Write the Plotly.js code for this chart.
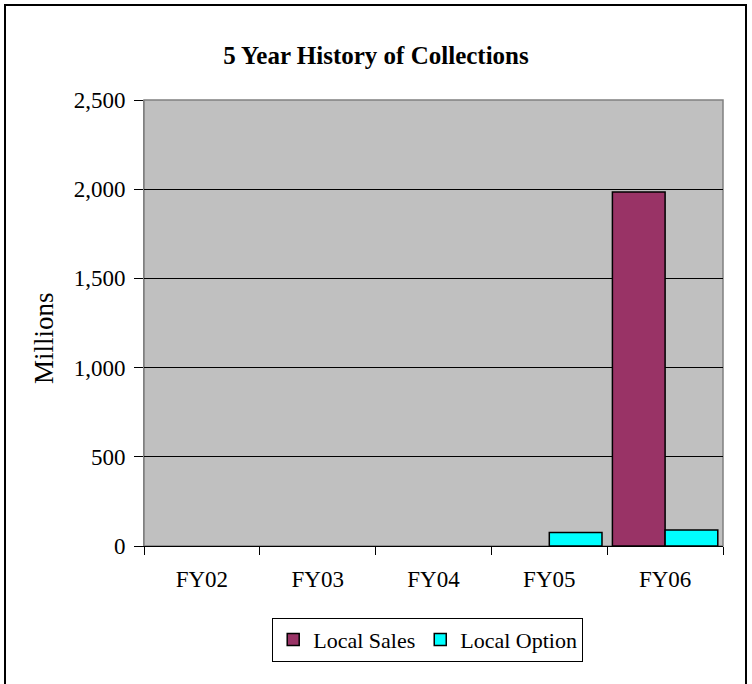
<!DOCTYPE html>
<html><head><meta charset="utf-8">
<script src="https://cdn.plot.ly/plotly-3.0.1.min.js"></script>
<style>body{margin:0;background:#fff}#c{width:752px;height:684px}</style>
</head><body><div id="c"></div>
<script>
const categories = ["FY02","FY03","FY04","FY05","FY06"];
const localSales = [null, null, null, null, 1985];
const localOption = [null, null, null, 75, 90];
const seriesNames = ["Local Sales","Local Option"];
const yTicks = [0,500,1000,1500,2000,2500];
const yTickText = ["0","500","1,000","1,500","2,000","2,500"];

const font = {family:"Liberation Serif, Times New Roman, serif", color:"#000"};
const traces = [
  {type:"bar", name:seriesNames[0], x:categories, y:localSales,
   marker:{color:"#993366", line:{color:"#000", width:1.5}}},
  {type:"bar", name:seriesNames[1], x:categories, y:localOption,
   marker:{color:"#00FFFF", line:{color:"#000", width:1.5}}}
];
const layout = {
  width:752, height:684,
  margin:{l:144, r:29, t:100, b:138},
  paper_bgcolor:"#fff", plot_bgcolor:"#C0C0C0",
  font:Object.assign({size:23}, font),
  title:{text:"<b>5 Year History of Collections</b>", x:0.5, xref:"container", xanchor:"center",
         y:1-55/684, yref:"container", yanchor:"middle",
         font:Object.assign({size:25}, font)},
  barmode:"group", bargap:0.09, bargroupgap:0,
  showlegend:true,
  legend:{orientation:"h", x:0.49, xanchor:"center", y:-0.21, yanchor:"middle",
          bordercolor:"#000", borderwidth:1, bgcolor:"#fff",
          font:Object.assign({size:22}, font), itemwidth:30, traceorder:"normal"},
  xaxis:{type:"category", tickson:"boundaries", ticks:"outside", ticklen:8, tickcolor:"#000",
         showline:true, linecolor:"#000", linewidth:1, showgrid:false,
         tickfont:Object.assign({size:23}, font), ticklabelstandoff:12, fixedrange:true},
  yaxis:{range:[0,2500], tickvals:yTicks, ticktext:yTickText, ticks:"outside", ticklen:9,
         tickcolor:"#000", showline:true, linecolor:"#808080", linewidth:1,
         showgrid:true, gridcolor:"#000", gridwidth:1, zeroline:false,
         tickfont:Object.assign({size:23}, font), ticklabelstandoff:4},
  annotations:[
    {text:"Millions", textangle:-90, xref:"paper", yref:"paper",
     x:(44-144)/579, y:(546-338)/446, xanchor:"center", yanchor:"middle",
     showarrow:false, font:Object.assign({size:27}, font)}
  ],
  shapes:[
    {type:"rect", xref:"paper", yref:"paper", x0:0, x1:1, y0:0, y1:1,
     line:{color:"#808080", width:1.5}, layer:"below", fillcolor:"rgba(0,0,0,0)"},
    {type:"rect", xref:"paper", yref:"paper", x0:(5-144)/579, x1:(746-144)/579,
     y0:(546-720)/446, y1:(546-5)/446, line:{color:"#000", width:2}}
  ]
};
Plotly.newPlot("c", traces, layout, {staticPlot:true});
</script></body></html>
